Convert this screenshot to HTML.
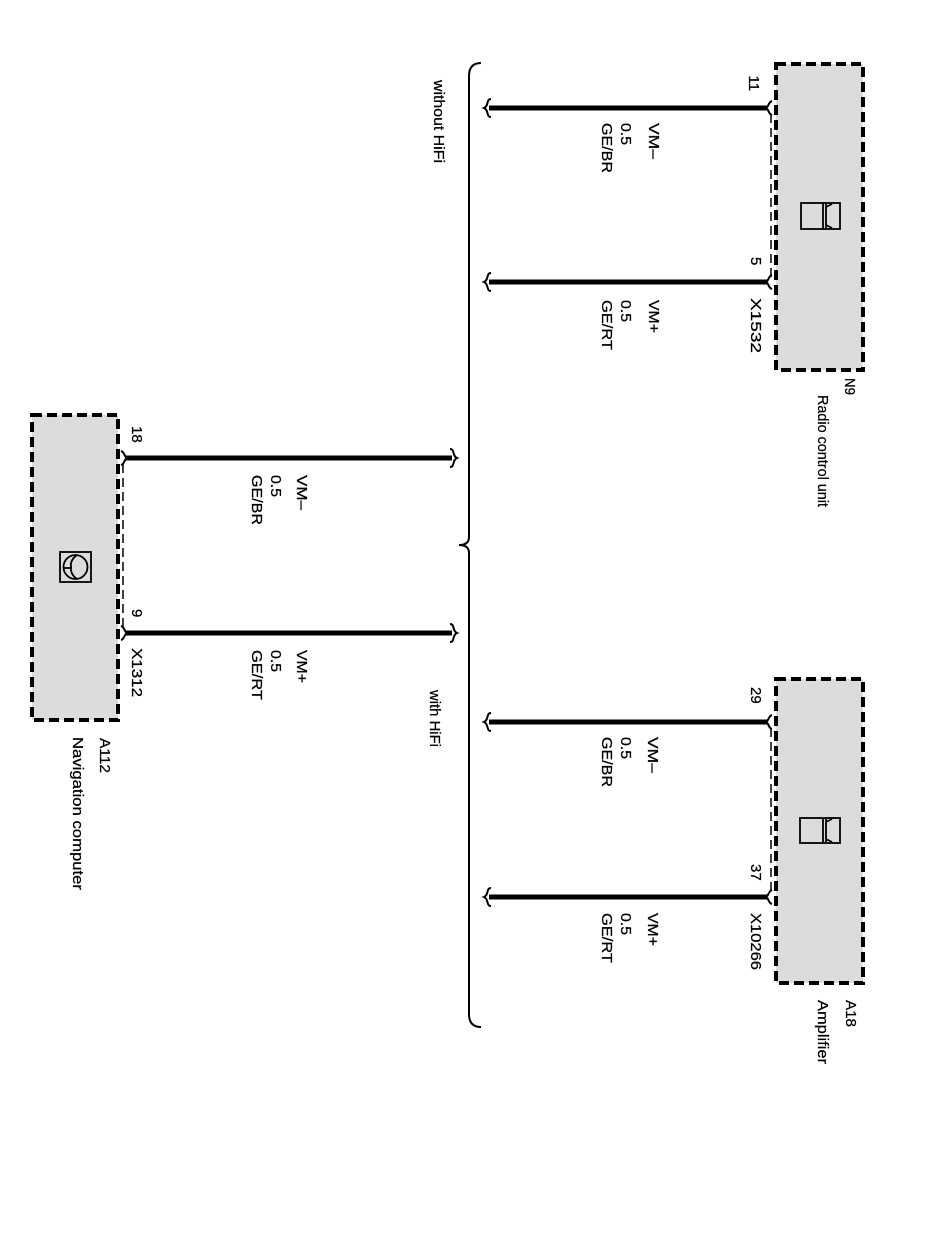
<!DOCTYPE html>
<html>
<head>
<meta charset="utf-8">
<style>
html,body{margin:0;padding:0;background:#fff;}
svg{display:block;}
text{font-family:"Liberation Sans",Arial,sans-serif;font-size:15px;fill:#000;stroke:#000;stroke-width:0.25;}
</style>
</head>
<body>
<svg width="941" height="1260" viewBox="0 0 941 1260" xmlns="http://www.w3.org/2000/svg">
<rect x="0" y="0" width="941" height="1260" fill="#fff"/>

<!-- Boxes -->
<g fill="#dcdcdc" stroke="#000" stroke-width="4" stroke-dasharray="10,5">
  <rect x="776" y="64" width="87" height="306"/>
  <rect x="776" y="679" width="87" height="304"/>
  <rect x="32" y="415" width="86" height="305"/>
</g>

<!-- Icons -->
<g fill="none" stroke="#000" stroke-width="1.8">
  <rect x="801" y="203" width="39" height="26"/>
  <line x1="823" y1="203" x2="823" y2="229"/>
  <path d="M826,204 L826,228 M826,207 L832,204 M826,225 L832,228"/>
  <rect x="800" y="818" width="40" height="25"/>
  <line x1="823" y1="818" x2="823" y2="843"/>
  <path d="M826,819 L826,842 M826,822 L832,819 M826,839 L832,842"/>
  <rect x="60" y="552" width="31" height="30"/>
  <circle cx="75.5" cy="567" r="12"/>
  <line x1="63.5" y1="568" x2="72" y2="568"/>
  <path d="M77,555 Q70,560 71,567 Q70,574 77,579"/>
</g>

<!-- Wires -->
<g stroke="#000" stroke-width="5">
  <line x1="489" y1="108" x2="767" y2="108"/>
  <line x1="489" y1="282" x2="767" y2="282"/>
  <line x1="489" y1="722" x2="767" y2="722"/>
  <line x1="489" y1="897" x2="767" y2="897"/>
  <line x1="126" y1="458" x2="452" y2="458"/>
  <line x1="126" y1="633" x2="452" y2="633"/>
</g>

<!-- Wire end curls -->
<g fill="none" stroke="#000" stroke-width="2">
  <path d="M491,99 C486,99 489,106 484,108 C489,110 486,117 491,117"/>
  <path d="M491,273 C486,273 489,280 484,282 C489,284 486,291 491,291"/>
  <path d="M491,713 C486,713 489,720 484,722 C489,724 486,731 491,731"/>
  <path d="M491,888 C486,888 489,895 484,897 C489,899 486,906 491,906"/>
  <path d="M450,449 C455,449 452,456 457,458 C452,460 455,467 450,467"/>
  <path d="M450,624 C455,624 452,631 457,633 C452,635 455,642 450,642"/>
  <!-- forks at boxes -->
  <path d="M765,108 C769,108 768,102 772,101 M765,108 C769,108 768,114 772,115"/>
  <path d="M765,282 C769,282 768,276 772,275 M765,282 C769,282 768,288 772,289"/>
  <path d="M765,722 C769,722 768,716 772,715 M765,722 C769,722 768,728 772,729"/>
  <path d="M765,897 C769,897 768,891 772,890 M765,897 C769,897 768,903 772,904"/>
  <path d="M128,458 C124,458 125,452 121,451 M128,458 C124,458 125,464 121,465"/>
  <path d="M128,633 C124,633 125,627 121,626 M128,633 C124,633 125,639 121,640"/>
</g>

<!-- thin dashed connector lines -->
<g stroke="#000" stroke-width="1.5" stroke-dasharray="9,5" fill="none">
  <line x1="771" y1="114" x2="771" y2="277"/>
  <line x1="771" y1="728" x2="771" y2="892"/>
  <line x1="123" y1="464" x2="123" y2="628"/>
</g>

<!-- Big brace -->
<path d="M481,63 Q469,63 469,76 L469,537 Q469,545 459,545 Q469,545 469,553 L469,1014 Q469,1027 481,1027" fill="none" stroke="#000" stroke-width="2"/>

<!-- Texts (rotated 90deg) -->
<g>
  <!-- Radio -->
  <text transform="translate(749,75.5) rotate(90)">11</text>
  <text transform="translate(751,257) rotate(90)">5</text>
  <text transform="translate(751,298) rotate(90)" textLength="55" lengthAdjust="spacingAndGlyphs">X1532</text>
  <text transform="translate(649,123) rotate(90)" textLength="36" lengthAdjust="spacingAndGlyphs">VM–</text>
  <text transform="translate(621,123) rotate(90)" textLength="22" lengthAdjust="spacingAndGlyphs">0.5</text>
  <text transform="translate(602,123) rotate(90)" textLength="50" lengthAdjust="spacingAndGlyphs">GE/BR</text>
  <text transform="translate(649,300) rotate(90)" textLength="33" lengthAdjust="spacingAndGlyphs">VM+</text>
  <text transform="translate(621,300) rotate(90)" textLength="22" lengthAdjust="spacingAndGlyphs">0.5</text>
  <text transform="translate(602,300) rotate(90)" textLength="50" lengthAdjust="spacingAndGlyphs">GE/RT</text>
  <text transform="translate(845,378) rotate(90)" textLength="17" lengthAdjust="spacingAndGlyphs">N9</text>
  <text transform="translate(818,395) rotate(90)" textLength="112" lengthAdjust="spacingAndGlyphs">Radio control unit</text>

  <text transform="translate(434,80) rotate(90)" textLength="83" lengthAdjust="spacingAndGlyphs">without HiFi</text>

  <!-- Amplifier -->
  <text transform="translate(751,687) rotate(90)">29</text>
  <text transform="translate(751,864) rotate(90)">37</text>
  <text transform="translate(751,913) rotate(90)" textLength="57" lengthAdjust="spacingAndGlyphs">X10266</text>
  <text transform="translate(648,737) rotate(90)" textLength="36" lengthAdjust="spacingAndGlyphs">VM–</text>
  <text transform="translate(621,737) rotate(90)" textLength="22" lengthAdjust="spacingAndGlyphs">0.5</text>
  <text transform="translate(602,737) rotate(90)" textLength="50" lengthAdjust="spacingAndGlyphs">GE/BR</text>
  <text transform="translate(648,913) rotate(90)" textLength="33" lengthAdjust="spacingAndGlyphs">VM+</text>
  <text transform="translate(621,913) rotate(90)" textLength="22" lengthAdjust="spacingAndGlyphs">0.5</text>
  <text transform="translate(602,913) rotate(90)" textLength="50" lengthAdjust="spacingAndGlyphs">GE/RT</text>
  <text transform="translate(846,1000) rotate(90)" textLength="27" lengthAdjust="spacingAndGlyphs">A18</text>
  <text transform="translate(818,1000) rotate(90)" textLength="64" lengthAdjust="spacingAndGlyphs">Amplifier</text>

  <!-- Navigation -->
  <text transform="translate(132,426) rotate(90)">18</text>
  <text transform="translate(132,609) rotate(90)">9</text>
  <text transform="translate(132,648) rotate(90)" textLength="49" lengthAdjust="spacingAndGlyphs">X1312</text>
  <text transform="translate(297,475) rotate(90)" textLength="35" lengthAdjust="spacingAndGlyphs">VM–</text>
  <text transform="translate(271,475) rotate(90)" textLength="22" lengthAdjust="spacingAndGlyphs">0.5</text>
  <text transform="translate(252,475) rotate(90)" textLength="50" lengthAdjust="spacingAndGlyphs">GE/BR</text>
  <text transform="translate(297,650) rotate(90)" textLength="33" lengthAdjust="spacingAndGlyphs">VM+</text>
  <text transform="translate(271,650) rotate(90)" textLength="22" lengthAdjust="spacingAndGlyphs">0.5</text>
  <text transform="translate(252,650) rotate(90)" textLength="50" lengthAdjust="spacingAndGlyphs">GE/RT</text>
  <text transform="translate(430,690) rotate(90)" textLength="57" lengthAdjust="spacingAndGlyphs">with HiFi</text>
  <text transform="translate(100,738) rotate(90)" textLength="35" lengthAdjust="spacingAndGlyphs">A112</text>
  <text transform="translate(73,737) rotate(90)" textLength="153" lengthAdjust="spacingAndGlyphs">Navigation computer</text>
</g>
</svg>
</body>
</html>
